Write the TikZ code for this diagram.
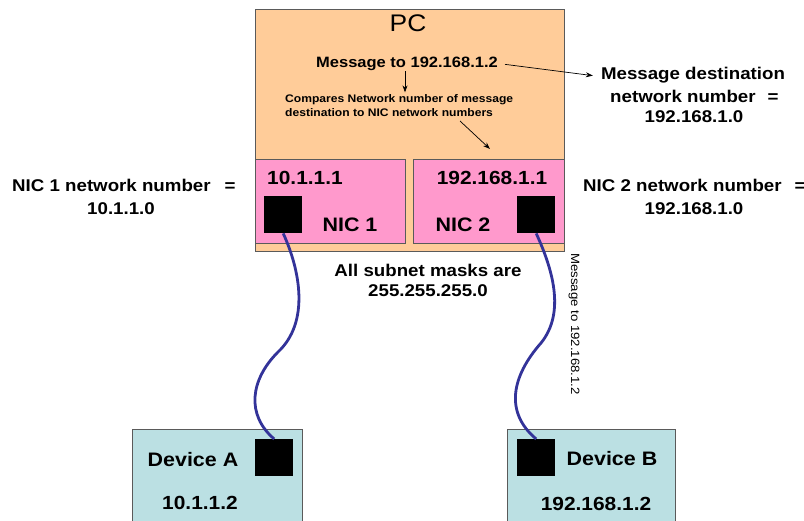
\documentclass[tikz,border=0pt]{standalone}
\usepackage{fontspec}
\setmainfont{Liberation Sans}[FakeStretch=1.1]
\usetikzlibrary{arrows.meta}
\definecolor{pcfill}{HTML}{FFCC99}
\definecolor{nicfill}{HTML}{FF99CC}
\definecolor{devfill}{HTML}{BBE0E3}
\definecolor{cablecol}{HTML}{333399}
\definecolor{edgecol}{HTML}{5A5A5A}
\newcommand{\fsz}[1]{\fontsize{#1}{#1}\selectfont}
\begin{document}
\begin{tikzpicture}[x=1pt,y=-1pt,
  box/.style={draw=edgecol,line width=0.8pt,inner sep=0pt,anchor=north west},
  port/.style={fill=black,draw=none,inner sep=0pt,minimum width=38pt,minimum height=37pt,anchor=north west},
  lbl/.style={inner sep=0pt,anchor=base},
  txtb/.style={font=\bfseries\fsz{#1}},
  txtr/.style={font=\fsz{#1}},
  note/.style={-{Stealth[length=7pt,width=5pt]},line width=0.7pt},
  wire/.style={draw=cablecol,line width=2.8pt}]
\useasboundingbox (0,0) rectangle (804,521);
\clip (0,0) rectangle (804,521);

% PC enclosure and its two network cards
\node[box,fill=pcfill,minimum width=309pt,minimum height=242pt] (pc) at (255,9) {};
\node[box,fill=nicfill,minimum width=150pt,minimum height=84pt] (nic1) at (255,159) {};
\node[box,fill=nicfill,minimum width=151pt,minimum height=84pt] (nic2) at (413,159) {};
\node[port] (p1) at (264,196) {};
\node[port] (p2) at (517,196) {};

% devices
\node[box,fill=devfill,minimum width=170pt,minimum height=110pt] (devA) at (132,429) {};
\node[box,fill=devfill,minimum width=168pt,minimum height=110pt] (devB) at (507,429) {};
\node[port] (pa) at (255,439) {};
\node[port] (pb) at (517,439) {};

% texts inside the PC
\node[lbl,txtr=24] (pctitle) at (408,32) {PC};
\node[lbl,txtb=15] (msg) at (407,68) {Message to 192.168.1.2};
\node[lbl,txtb=11,anchor=base west] (cmp1) at (285,103) {Compares Network number of message};
\node[lbl,txtb=11,anchor=base west] (cmp2) at (285,117) {destination to NIC network numbers};
\node[lbl,txtb=19] (ip1) at (305,185) {10.1.1.1};
\node[lbl,txtb=19.5] (n1) at (350,232) {NIC 1};
\node[lbl,txtb=19] (ip2) at (492,185) {192.168.1.1};
\node[lbl,txtb=19.5] (n2) at (463,232) {NIC 2};

% side notes
\node[lbl,txtb=17] (dest1) at (693,80) {Message destination};
\node[lbl,txtb=17,anchor=base west] (dest2) at (610,103) {network number\hspace{12pt}=};
\node[lbl,txtb=17] (dest3) at (694,123) {192.168.1.0};
\node[lbl,txtb=17,anchor=base west] (left1) at (12,192) {NIC 1 network number\hspace{14pt}=};
\node[lbl,txtb=17] (left2) at (121,215) {10.1.1.0};
\node[lbl,txtb=17,anchor=base west] (right1) at (583,192) {NIC 2 network number\hspace{13pt}=};
\node[lbl,txtb=17] (right2) at (694,215) {192.168.1.0};
\node[lbl,txtb=17] (mask1) at (428,277) {All subnet masks are};
\node[lbl,txtb=17] (mask2) at (428,297) {255.255.255.0};

% device labels
\node[lbl,txtb=19.5] (devAname) at (193,467) {Device A};
\node[lbl,txtb=19] (devAip) at (200,510) {10.1.1.2};
\node[lbl,txtb=19.5] (devBname) at (612,466) {Device B};
\node[lbl,txtb=19] (devBip) at (596,511) {192.168.1.2};

% annotation arrows
\coordinate (cmpfrom) at (460,121);
\coordinate (cmpto) at (490,149);
\draw[note] ([xshift=7pt]msg.east) -- ([xshift=-8pt]dest1.west);
\draw[note] ([xshift=-2pt]msg.south) -- ++(0,21);
\draw[note] (cmpfrom) -- (cmpto);

% cables
\draw[wire] (p1.south) .. controls (300,270) and (310,322) .. (278,352)
  .. controls (250,380) and (246,415) .. (pa.north);
\draw[wire] (p2.south) .. controls (552,268) and (566,312) .. (541,343)
  .. controls (512,376) and (504,412) .. (pb.north);
\node[lbl,txtr=12,rotate=-90,anchor=center] (cablemsg) at (574,324) {Message to 192.168.1.2};
\end{tikzpicture}
\end{document}
